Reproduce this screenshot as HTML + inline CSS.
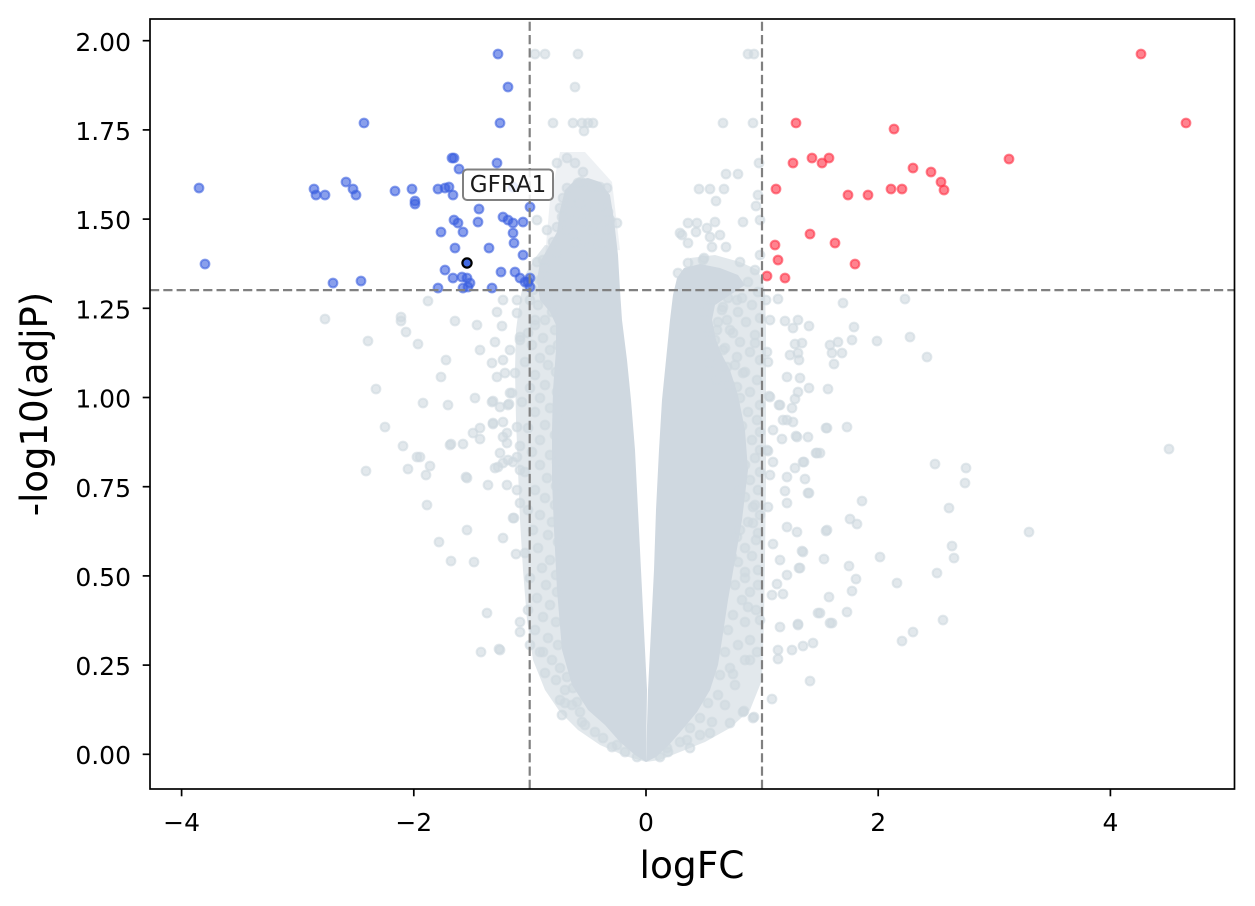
<!DOCTYPE html>
<html><head><meta charset="utf-8"><style>
html,body{margin:0;padding:0;background:#fff;overflow:hidden}
svg{display:block}
.g{fill:#cfd8e0;fill-opacity:.6;stroke:#cfd8e0;stroke-opacity:.6;stroke-width:2}
.b{fill:#3a5fe0;fill-opacity:.6;stroke:#3a5fe0;stroke-opacity:.6;stroke-width:2}
.r{fill:#ff3045;fill-opacity:.6;stroke:#ff3045;stroke-opacity:.6;stroke-width:2}
text{font-family:"DejaVu Sans","Liberation Sans",sans-serif;fill:#000}
</style></head><body>
<svg width="1255" height="906" viewBox="0 0 1255 906" xmlns="http://www.w3.org/2000/svg">
<rect width="1255" height="906" fill="#fff"/>
<defs><clipPath id="c"><rect x="150" y="19" width="1084.5" height="770"/></clipPath></defs>
<g clip-path="url(#c)">
<polygon fill="#cfd8e0" fill-opacity="0.35" points="560,152 585,152 612,182 620,250 545,256 550,200"/>
<polygon fill="#cfd8e0" fill-opacity="0.6" points="545,245 535,258 525,275 520,300 516,330 515,370 516,420 518,470 520,520 523,570 527,620 533,660 545,690 560,712 578,730 600,745 625,756 646,762 646,700 600,600 600,300 580,250"/>
<polygon fill="#cfd8e0" fill-opacity="0.6" points="690,258 715,255 740,262 758,270 765,290 766,330 766,400 766,480 765,560 764,620 762,680 750,710 730,728 705,742 680,752 660,760 646,762 690,600 690,300"/>
<polygon fill="#cfd8e0" points="575,180 565,190 560,210 557,232 548,248 540,262 537,280 540,300 550,312 556,325 556,350 553,390 552,430 552,480 554,530 557,590 562,650 572,685 588,710 605,725 620,742 635,755 646,762 647,690 644,630 641,570 638,510 635,450 631,400 627,360 622,320 620,290 618,255 614,220 610,195 600,182 588,178"/>
<polygon fill="#cfd8e0" points="646,762 648,690 651,630 654,570 656,510 659,450 662,400 666,360 670,320 673,295 677,278 684,268 700,264 720,268 738,275 745,285 730,295 715,305 712,320 716,340 722,355 730,370 738,395 745,430 748,470 742,520 735,560 728,600 722,640 718,665 710,690 697,712 682,730 668,746 656,757"/>
<g id="grey">
<circle class="g" r="4.4" cx="535" cy="54"/><circle class="g" r="4.4" cx="545" cy="54"/><circle class="g" r="4.4" cx="578" cy="54"/><circle class="g" r="4.4" cx="748" cy="54"/><circle class="g" r="4.4" cx="754" cy="54"/><circle class="g" r="4.4" cx="575" cy="87"/><circle class="g" r="4.4" cx="553" cy="123"/><circle class="g" r="4.4" cx="573" cy="123"/><circle class="g" r="4.4" cx="582" cy="123"/><circle class="g" r="4.4" cx="588" cy="123"/><circle class="g" r="4.4" cx="593" cy="123"/><circle class="g" r="4.4" cx="584" cy="131"/><circle class="g" r="4.4" cx="723" cy="123"/><circle class="g" r="4.4" cx="753" cy="123"/>
<circle class="g" r="4.4" cx="567" cy="158"/><circle class="g" r="4.4" cx="575" cy="163"/><circle class="g" r="4.4" cx="583" cy="172"/><circle class="g" r="4.4" cx="557" cy="163"/><circle class="g" r="4.4" cx="578" cy="183"/><circle class="g" r="4.4" cx="593" cy="187"/><circle class="g" r="4.4" cx="600" cy="187"/><circle class="g" r="4.4" cx="607" cy="188"/><circle class="g" r="4.4" cx="567" cy="188"/><circle class="g" r="4.4" cx="563" cy="198"/><circle class="g" r="4.4" cx="570" cy="203"/><circle class="g" r="4.4" cx="560" cy="208"/><circle class="g" r="4.4" cx="580" cy="203"/><circle class="g" r="4.4" cx="587" cy="210"/><circle class="g" r="4.4" cx="600" cy="207"/><circle class="g" r="4.4" cx="608" cy="212"/><circle class="g" r="4.4" cx="610" cy="220"/><circle class="g" r="4.4" cx="575" cy="220"/><circle class="g" r="4.4" cx="562" cy="217"/><circle class="g" r="4.4" cx="557" cy="227"/><circle class="g" r="4.4" cx="567" cy="230"/><circle class="g" r="4.4" cx="587" cy="222"/><circle class="g" r="4.4" cx="593" cy="230"/><circle class="g" r="4.4" cx="607" cy="230"/><circle class="g" r="4.4" cx="617" cy="223"/><circle class="g" r="4.4" cx="575" cy="242"/><circle class="g" r="4.4" cx="553" cy="242"/><circle class="g" r="4.4" cx="547" cy="230"/><circle class="g" r="4.4" cx="537" cy="220"/><circle class="g" r="4.4" cx="590" cy="247"/><circle class="g" r="4.4" cx="603" cy="243"/><circle class="g" r="4.4" cx="557" cy="253"/><circle class="g" r="4.4" cx="583" cy="257"/><circle class="g" r="4.4" cx="543" cy="260"/><circle class="g" r="4.4" cx="581" cy="182"/><circle class="g" r="4.4" cx="576" cy="243"/>
<circle class="g" r="4.4" cx="759" cy="163"/><circle class="g" r="4.4" cx="726" cy="174"/><circle class="g" r="4.4" cx="738" cy="174"/><circle class="g" r="4.4" cx="699" cy="189"/><circle class="g" r="4.4" cx="710" cy="189"/><circle class="g" r="4.4" cx="724" cy="189"/><circle class="g" r="4.4" cx="716" cy="201"/><circle class="g" r="4.4" cx="758" cy="195"/><circle class="g" r="4.4" cx="756" cy="206"/><circle class="g" r="4.4" cx="743" cy="222"/><circle class="g" r="4.4" cx="760" cy="220"/><circle class="g" r="4.4" cx="688" cy="223"/><circle class="g" r="4.4" cx="696" cy="232"/><circle class="g" r="4.4" cx="682" cy="235"/><circle class="g" r="4.4" cx="688" cy="243"/><circle class="g" r="4.4" cx="707" cy="228"/><circle class="g" r="4.4" cx="715" cy="222"/><circle class="g" r="4.4" cx="710" cy="237"/><circle class="g" r="4.4" cx="720" cy="235"/><circle class="g" r="4.4" cx="712" cy="247"/><circle class="g" r="4.4" cx="726" cy="247"/><circle class="g" r="4.4" cx="704" cy="258"/><circle class="g" r="4.4" cx="688" cy="263"/><circle class="g" r="4.4" cx="703" cy="260"/><circle class="g" r="4.4" cx="678" cy="273"/><circle class="g" r="4.4" cx="697" cy="223"/><circle class="g" r="4.4" cx="680" cy="233"/><circle class="g" r="4.4" cx="740" cy="262"/><circle class="g" r="4.4" cx="755" cy="270"/><circle class="g" r="4.4" cx="760" cy="255"/>
<circle class="g" r="4.4" cx="325" cy="319"/><circle class="g" r="4.4" cx="401" cy="317"/><circle class="g" r="4.4" cx="401" cy="321"/><circle class="g" r="4.4" cx="406" cy="332"/><circle class="g" r="4.4" cx="368" cy="341"/><circle class="g" r="4.4" cx="418" cy="344"/><circle class="g" r="4.4" cx="428" cy="301"/><circle class="g" r="4.4" cx="455" cy="321"/><circle class="g" r="4.4" cx="477" cy="325"/><circle class="g" r="4.4" cx="502" cy="326"/><circle class="g" r="4.4" cx="446" cy="360"/><circle class="g" r="4.4" cx="441" cy="377"/><circle class="g" r="4.4" cx="376" cy="389"/><circle class="g" r="4.4" cx="423" cy="403"/><circle class="g" r="4.4" cx="448" cy="405"/><circle class="g" r="4.4" cx="475" cy="398"/><circle class="g" r="4.4" cx="493" cy="401"/><circle class="g" r="4.4" cx="509" cy="404"/><circle class="g" r="4.4" cx="385" cy="427"/><circle class="g" r="4.4" cx="403" cy="446"/><circle class="g" r="4.4" cx="417" cy="457"/><circle class="g" r="4.4" cx="430" cy="466"/><circle class="g" r="4.4" cx="426" cy="475"/><circle class="g" r="4.4" cx="408" cy="469"/><circle class="g" r="4.4" cx="366" cy="471"/><circle class="g" r="4.4" cx="451" cy="444"/><circle class="g" r="4.4" cx="463" cy="444"/><circle class="g" r="4.4" cx="473" cy="433"/><circle class="g" r="4.4" cx="480" cy="428"/><circle class="g" r="4.4" cx="480" cy="439"/><circle class="g" r="4.4" cx="466" cy="477"/><circle class="g" r="4.4" cx="427" cy="505"/><circle class="g" r="4.4" cx="467" cy="530"/><circle class="g" r="4.4" cx="439" cy="542"/><circle class="g" r="4.4" cx="451" cy="561"/><circle class="g" r="4.4" cx="474" cy="562"/><circle class="g" r="4.4" cx="503" cy="538"/><circle class="g" r="4.4" cx="516" cy="554"/><circle class="g" r="4.4" cx="487" cy="613"/><circle class="g" r="4.4" cx="481" cy="652"/><circle class="g" r="4.4" cx="499" cy="649"/><circle class="g" r="4.4" cx="520" cy="622"/><circle class="g" r="4.4" cx="520" cy="632"/><circle class="g" r="4.4" cx="488" cy="485"/><circle class="g" r="4.4" cx="507" cy="485"/><circle class="g" r="4.4" cx="514" cy="518"/><circle class="g" r="4.4" cx="495" cy="468"/><circle class="g" r="4.4" cx="503" cy="463"/><circle class="g" r="4.4" cx="513" cy="462"/><circle class="g" r="4.4" cx="520" cy="470"/><circle class="g" r="4.4" cx="500" cy="453"/><circle class="g" r="4.4" cx="507" cy="443"/><circle class="g" r="4.4" cx="503" cy="437"/><circle class="g" r="4.4" cx="517" cy="427"/><circle class="g" r="4.4" cx="493" cy="424"/><circle class="g" r="4.4" cx="500" cy="407"/><circle class="g" r="4.4" cx="510" cy="393"/><circle class="g" r="4.4" cx="492" cy="363"/><circle class="g" r="4.4" cx="497" cy="377"/><circle class="g" r="4.4" cx="505" cy="373"/><circle class="g" r="4.4" cx="515" cy="373"/><circle class="g" r="4.4" cx="480" cy="350"/><circle class="g" r="4.4" cx="495" cy="342"/><circle class="g" r="4.4" cx="503" cy="360"/><circle class="g" r="4.4" cx="510" cy="350"/><circle class="g" r="4.4" cx="520" cy="337"/><circle class="g" r="4.4" cx="497" cy="312"/><circle class="g" r="4.4" cx="517" cy="313"/><circle class="g" r="4.4" cx="503" cy="300"/><circle class="g" r="4.4" cx="517" cy="300"/><circle class="g" r="4.4" cx="535" cy="320"/>
<circle class="g" r="4.4" cx="492" cy="402"/><circle class="g" r="4.4" cx="508" cy="405"/><circle class="g" r="4.4" cx="512" cy="393"/><circle class="g" r="4.4" cx="420" cy="457"/><circle class="g" r="4.4" cx="450" cy="445"/><circle class="g" r="4.4" cx="493" cy="423"/><circle class="g" r="4.4" cx="503" cy="422"/><circle class="g" r="4.4" cx="507" cy="433"/><circle class="g" r="4.4" cx="508" cy="460"/><circle class="g" r="4.4" cx="498" cy="467"/><circle class="g" r="4.4" cx="517" cy="457"/><circle class="g" r="4.4" cx="467" cy="478"/><circle class="g" r="4.4" cx="517" cy="490"/><circle class="g" r="4.4" cx="513" cy="518"/><circle class="g" r="4.4" cx="520" cy="503"/><circle class="g" r="4.4" cx="500" cy="650"/><circle class="g" r="4.4" cx="530" cy="645"/><circle class="g" r="4.4" cx="543" cy="652"/><circle class="g" r="4.4" cx="562" cy="715"/><circle class="g" r="4.4" cx="582" cy="722"/><circle class="g" r="4.4" cx="565" cy="703"/><circle class="g" r="4.4" cx="577" cy="702"/><circle class="g" r="4.4" cx="573" cy="688"/><circle class="g" r="4.4" cx="567" cy="677"/><circle class="g" r="4.4" cx="617" cy="745"/>
<circle class="g" r="4.4" cx="667" cy="748"/><circle class="g" r="4.4" cx="687" cy="740"/><circle class="g" r="4.4" cx="710" cy="733"/><circle class="g" r="4.4" cx="730" cy="723"/><circle class="g" r="4.4" cx="743" cy="712"/><circle class="g" r="4.4" cx="753" cy="718"/><circle class="g" r="4.4" cx="772" cy="699"/><circle class="g" r="4.4" cx="733" cy="674"/><circle class="g" r="4.4" cx="750" cy="660"/><circle class="g" r="4.4" cx="757" cy="652"/><circle class="g" r="4.4" cx="748" cy="607"/><circle class="g" r="4.4" cx="760" cy="620"/><circle class="g" r="4.4" cx="745" cy="572"/><circle class="g" r="4.4" cx="758" cy="585"/><circle class="g" r="4.4" cx="732" cy="557"/><circle class="g" r="4.4" cx="737" cy="537"/><circle class="g" r="4.4" cx="753" cy="523"/><circle class="g" r="4.4" cx="740" cy="490"/><circle class="g" r="4.4" cx="758" cy="533"/><circle class="g" r="4.4" cx="753" cy="507"/>
<circle class="g" r="4.4" cx="778" cy="299"/><circle class="g" r="4.4" cx="843" cy="303"/><circle class="g" r="4.4" cx="905" cy="299"/><circle class="g" r="4.4" cx="785" cy="321"/><circle class="g" r="4.4" cx="798" cy="320"/><circle class="g" r="4.4" cx="793" cy="328"/><circle class="g" r="4.4" cx="809" cy="326"/><circle class="g" r="4.4" cx="854" cy="327"/><circle class="g" r="4.4" cx="852" cy="340"/><circle class="g" r="4.4" cx="877" cy="341"/><circle class="g" r="4.4" cx="910" cy="337"/><circle class="g" r="4.4" cx="927" cy="357"/><circle class="g" r="4.4" cx="830" cy="345"/><circle class="g" r="4.4" cx="838" cy="342"/><circle class="g" r="4.4" cx="842" cy="353"/><circle class="g" r="4.4" cx="832" cy="353"/><circle class="g" r="4.4" cx="834" cy="364"/><circle class="g" r="4.4" cx="795" cy="344"/><circle class="g" r="4.4" cx="802" cy="343"/><circle class="g" r="4.4" cx="790" cy="355"/><circle class="g" r="4.4" cx="798" cy="353"/><circle class="g" r="4.4" cx="799" cy="360"/><circle class="g" r="4.4" cx="768" cy="362"/><circle class="g" r="4.4" cx="767" cy="352"/><circle class="g" r="4.4" cx="755" cy="343"/><circle class="g" r="4.4" cx="787" cy="377"/><circle class="g" r="4.4" cx="800" cy="378"/><circle class="g" r="4.4" cx="809" cy="388"/><circle class="g" r="4.4" cx="828" cy="389"/><circle class="g" r="4.4" cx="798" cy="392"/><circle class="g" r="4.4" cx="795" cy="399"/><circle class="g" r="4.4" cx="792" cy="408"/><circle class="g" r="4.4" cx="769" cy="396"/><circle class="g" r="4.4" cx="779" cy="405"/><circle class="g" r="4.4" cx="783" cy="420"/><circle class="g" r="4.4" cx="793" cy="422"/><circle class="g" r="4.4" cx="773" cy="430"/><circle class="g" r="4.4" cx="826" cy="428"/><circle class="g" r="4.4" cx="847" cy="427"/><circle class="g" r="4.4" cx="782" cy="439"/><circle class="g" r="4.4" cx="796" cy="436"/><circle class="g" r="4.4" cx="808" cy="437"/><circle class="g" r="4.4" cx="1169" cy="449"/><circle class="g" r="4.4" cx="816" cy="453"/><circle class="g" r="4.4" cx="820" cy="453"/><circle class="g" r="4.4" cx="768" cy="451"/><circle class="g" r="4.4" cx="935" cy="464"/><circle class="g" r="4.4" cx="966" cy="468"/><circle class="g" r="4.4" cx="965" cy="483"/><circle class="g" r="4.4" cx="804" cy="462"/><circle class="g" r="4.4" cx="795" cy="468"/><circle class="g" r="4.4" cx="787" cy="477"/><circle class="g" r="4.4" cx="805" cy="479"/><circle class="g" r="4.4" cx="773" cy="462"/><circle class="g" r="4.4" cx="770" cy="475"/><circle class="g" r="4.4" cx="785" cy="491"/><circle class="g" r="4.4" cx="809" cy="493"/><circle class="g" r="4.4" cx="787" cy="503"/><circle class="g" r="4.4" cx="862" cy="501"/><circle class="g" r="4.4" cx="949" cy="508"/><circle class="g" r="4.4" cx="850" cy="519"/><circle class="g" r="4.4" cx="857" cy="524"/><circle class="g" r="4.4" cx="787" cy="527"/><circle class="g" r="4.4" cx="797" cy="532"/><circle class="g" r="4.4" cx="826" cy="531"/><circle class="g" r="4.4" cx="1029" cy="532"/><circle class="g" r="4.4" cx="773" cy="544"/><circle class="g" r="4.4" cx="802" cy="551"/><circle class="g" r="4.4" cx="952" cy="546"/><circle class="g" r="4.4" cx="954" cy="558"/><circle class="g" r="4.4" cx="880" cy="557"/><circle class="g" r="4.4" cx="824" cy="559"/><circle class="g" r="4.4" cx="780" cy="560"/><circle class="g" r="4.4" cx="849" cy="566"/><circle class="g" r="4.4" cx="799" cy="568"/><circle class="g" r="4.4" cx="787" cy="575"/><circle class="g" r="4.4" cx="937" cy="573"/><circle class="g" r="4.4" cx="856" cy="579"/><circle class="g" r="4.4" cx="897" cy="583"/><circle class="g" r="4.4" cx="777" cy="584"/><circle class="g" r="4.4" cx="783" cy="594"/><circle class="g" r="4.4" cx="772" cy="595"/><circle class="g" r="4.4" cx="829" cy="597"/><circle class="g" r="4.4" cx="852" cy="591"/><circle class="g" r="4.4" cx="847" cy="612"/><circle class="g" r="4.4" cx="820" cy="613"/><circle class="g" r="4.4" cx="830" cy="623"/><circle class="g" r="4.4" cx="943" cy="620"/><circle class="g" r="4.4" cx="780" cy="627"/><circle class="g" r="4.4" cx="798" cy="624"/><circle class="g" r="4.4" cx="913" cy="632"/><circle class="g" r="4.4" cx="902" cy="641"/><circle class="g" r="4.4" cx="813" cy="643"/><circle class="g" r="4.4" cx="803" cy="646"/><circle class="g" r="4.4" cx="792" cy="650"/><circle class="g" r="4.4" cx="778" cy="650"/><circle class="g" r="4.4" cx="778" cy="659"/><circle class="g" r="4.4" cx="810" cy="681"/><circle class="g" r="4.4" cx="754" cy="717"/><circle class="g" r="4.4" cx="744" cy="711"/>
<circle class="g" r="4.4" cx="770" cy="397"/><circle class="g" r="4.4" cx="780" cy="405"/><circle class="g" r="4.4" cx="787" cy="420"/><circle class="g" r="4.4" cx="797" cy="437"/><circle class="g" r="4.4" cx="827" cy="428"/><circle class="g" r="4.4" cx="767" cy="450"/><circle class="g" r="4.4" cx="817" cy="453"/><circle class="g" r="4.4" cx="803" cy="462"/><circle class="g" r="4.4" cx="808" cy="493"/><circle class="g" r="4.4" cx="768" cy="507"/><circle class="g" r="4.4" cx="827" cy="530"/><circle class="g" r="4.4" cx="803" cy="552"/><circle class="g" r="4.4" cx="800" cy="568"/><circle class="g" r="4.4" cx="818" cy="613"/><circle class="g" r="4.4" cx="832" cy="623"/><circle class="g" r="4.4" cx="798" cy="625"/><circle class="g" r="4.4" cx="766" cy="300"/><circle class="g" r="4.4" cx="770" cy="320"/>
<circle class="g" r="4.4" cx="537" cy="262"/><circle class="g" r="4.4" cx="545" cy="268"/><circle class="g" r="4.4" cx="540" cy="280"/><circle class="g" r="4.4" cx="533" cy="290"/><circle class="g" r="4.4" cx="548" cy="296"/><circle class="g" r="4.4" cx="538" cy="305"/><circle class="g" r="4.4" cx="530" cy="300"/><circle class="g" r="4.4" cx="552" cy="312"/><circle class="g" r="4.4" cx="545" cy="320"/><circle class="g" r="4.4" cx="535" cy="325"/><circle class="g" r="4.4" cx="528" cy="333"/><circle class="g" r="4.4" cx="555" cy="330"/><circle class="g" r="4.4" cx="543" cy="338"/><circle class="g" r="4.4" cx="520" cy="340"/><circle class="g" r="4.4" cx="532" cy="345"/><circle class="g" r="4.4" cx="550" cy="350"/><circle class="g" r="4.4" cx="558" cy="345"/><circle class="g" r="4.4" cx="540" cy="358"/><circle class="g" r="4.4" cx="525" cy="362"/><circle class="g" r="4.4" cx="548" cy="365"/><circle class="g" r="4.4" cx="556" cy="372"/><circle class="g" r="4.4" cx="535" cy="375"/><circle class="g" r="4.4" cx="545" cy="385"/><circle class="g" r="4.4" cx="530" cy="388"/><circle class="g" r="4.4" cx="557" cy="392"/><circle class="g" r="4.4" cx="540" cy="398"/><circle class="g" r="4.4" cx="522" cy="402"/><circle class="g" r="4.4" cx="550" cy="408"/><circle class="g" r="4.4" cx="535" cy="412"/><circle class="g" r="4.4" cx="558" cy="418"/><circle class="g" r="4.4" cx="545" cy="425"/><circle class="g" r="4.4" cx="528" cy="428"/><circle class="g" r="4.4" cx="555" cy="435"/><circle class="g" r="4.4" cx="540" cy="440"/><circle class="g" r="4.4" cx="520" cy="446"/><circle class="g" r="4.4" cx="532" cy="452"/><circle class="g" r="4.4" cx="550" cy="455"/><circle class="g" r="4.4" cx="557" cy="462"/><circle class="g" r="4.4" cx="540" cy="465"/><circle class="g" r="4.4" cx="525" cy="472"/><circle class="g" r="4.4" cx="547" cy="478"/><circle class="g" r="4.4" cx="556" cy="486"/><circle class="g" r="4.4" cx="535" cy="490"/><circle class="g" r="4.4" cx="545" cy="498"/><circle class="g" r="4.4" cx="555" cy="505"/><circle class="g" r="4.4" cx="528" cy="510"/><circle class="g" r="4.4" cx="540" cy="515"/><circle class="g" r="4.4" cx="552" cy="522"/><circle class="g" r="4.4" cx="533" cy="530"/><circle class="g" r="4.4" cx="548" cy="535"/><circle class="g" r="4.4" cx="558" cy="542"/><circle class="g" r="4.4" cx="538" cy="548"/><circle class="g" r="4.4" cx="525" cy="553"/><circle class="g" r="4.4" cx="550" cy="560"/><circle class="g" r="4.4" cx="542" cy="568"/><circle class="g" r="4.4" cx="556" cy="575"/><circle class="g" r="4.4" cx="530" cy="578"/><circle class="g" r="4.4" cx="546" cy="585"/><circle class="g" r="4.4" cx="557" cy="592"/><circle class="g" r="4.4" cx="537" cy="598"/><circle class="g" r="4.4" cx="550" cy="605"/><circle class="g" r="4.4" cx="528" cy="610"/><circle class="g" r="4.4" cx="543" cy="617"/><circle class="g" r="4.4" cx="556" cy="622"/><circle class="g" r="4.4" cx="535" cy="630"/><circle class="g" r="4.4" cx="548" cy="638"/><circle class="g" r="4.4" cx="558" cy="645"/><circle class="g" r="4.4" cx="540" cy="652"/><circle class="g" r="4.4" cx="552" cy="660"/><circle class="g" r="4.4" cx="560" cy="668"/><circle class="g" r="4.4" cx="545" cy="673"/><circle class="g" r="4.4" cx="556" cy="680"/><circle class="g" r="4.4" cx="565" cy="690"/><circle class="g" r="4.4" cx="560" cy="700"/><circle class="g" r="4.4" cx="572" cy="705"/><circle class="g" r="4.4" cx="580" cy="712"/><circle class="g" r="4.4" cx="585" cy="725"/><circle class="g" r="4.4" cx="595" cy="732"/><circle class="g" r="4.4" cx="603" cy="738"/><circle class="g" r="4.4" cx="612" cy="747"/><circle class="g" r="4.4" cx="625" cy="752"/><circle class="g" r="4.4" cx="637" cy="757"/>
<circle class="g" r="4.4" cx="748" cy="282"/><circle class="g" r="4.4" cx="758" cy="292"/><circle class="g" r="4.4" cx="742" cy="298"/><circle class="g" r="4.4" cx="752" cy="305"/><circle class="g" r="4.4" cx="738" cy="312"/><circle class="g" r="4.4" cx="760" cy="318"/><circle class="g" r="4.4" cx="746" cy="322"/><circle class="g" r="4.4" cx="730" cy="330"/><circle class="g" r="4.4" cx="755" cy="335"/><circle class="g" r="4.4" cx="740" cy="342"/><circle class="g" r="4.4" cx="725" cy="348"/><circle class="g" r="4.4" cx="750" cy="352"/><circle class="g" r="4.4" cx="760" cy="360"/><circle class="g" r="4.4" cx="735" cy="365"/><circle class="g" r="4.4" cx="745" cy="372"/><circle class="g" r="4.4" cx="757" cy="380"/><circle class="g" r="4.4" cx="730" cy="385"/><circle class="g" r="4.4" cx="750" cy="392"/><circle class="g" r="4.4" cx="740" cy="398"/><circle class="g" r="4.4" cx="760" cy="405"/><circle class="g" r="4.4" cx="748" cy="412"/><circle class="g" r="4.4" cx="757" cy="420"/><circle class="g" r="4.4" cx="742" cy="426"/><circle class="g" r="4.4" cx="760" cy="432"/><circle class="g" r="4.4" cx="752" cy="440"/><circle class="g" r="4.4" cx="760" cy="450"/><circle class="g" r="4.4" cx="755" cy="458"/><circle class="g" r="4.4" cx="745" cy="465"/><circle class="g" r="4.4" cx="760" cy="472"/><circle class="g" r="4.4" cx="750" cy="480"/><circle class="g" r="4.4" cx="758" cy="490"/><circle class="g" r="4.4" cx="745" cy="497"/><circle class="g" r="4.4" cx="755" cy="505"/><circle class="g" r="4.4" cx="760" cy="515"/><circle class="g" r="4.4" cx="748" cy="522"/><circle class="g" r="4.4" cx="740" cy="530"/><circle class="g" r="4.4" cx="756" cy="540"/><circle class="g" r="4.4" cx="745" cy="548"/><circle class="g" r="4.4" cx="752" cy="556"/><circle class="g" r="4.4" cx="738" cy="562"/><circle class="g" r="4.4" cx="758" cy="570"/><circle class="g" r="4.4" cx="745" cy="578"/><circle class="g" r="4.4" cx="735" cy="585"/><circle class="g" r="4.4" cx="750" cy="592"/><circle class="g" r="4.4" cx="742" cy="600"/><circle class="g" r="4.4" cx="756" cy="610"/><circle class="g" r="4.4" cx="733" cy="615"/><circle class="g" r="4.4" cx="745" cy="622"/><circle class="g" r="4.4" cx="728" cy="630"/><circle class="g" r="4.4" cx="750" cy="640"/><circle class="g" r="4.4" cx="738" cy="645"/><circle class="g" r="4.4" cx="725" cy="652"/><circle class="g" r="4.4" cx="745" cy="660"/><circle class="g" r="4.4" cx="730" cy="668"/><circle class="g" r="4.4" cx="720" cy="675"/><circle class="g" r="4.4" cx="735" cy="685"/><circle class="g" r="4.4" cx="718" cy="695"/><circle class="g" r="4.4" cx="708" cy="703"/><circle class="g" r="4.4" cx="725" cy="705"/><circle class="g" r="4.4" cx="700" cy="718"/><circle class="g" r="4.4" cx="712" cy="722"/><circle class="g" r="4.4" cx="690" cy="728"/><circle class="g" r="4.4" cx="700" cy="735"/><circle class="g" r="4.4" cx="680" cy="742"/><circle class="g" r="4.4" cx="690" cy="748"/><circle class="g" r="4.4" cx="668" cy="752"/><circle class="g" r="4.4" cx="660" cy="757"/>
<circle class="g" r="4.4" cx="705" cy="312"/><circle class="g" r="4.4" cx="712" cy="300"/><circle class="g" r="4.4" cx="718" cy="322"/><circle class="g" r="4.4" cx="708" cy="328"/><circle class="g" r="4.4" cx="715" cy="340"/><circle class="g" r="4.4" cx="722" cy="310"/><circle class="g" r="4.4" cx="728" cy="298"/><circle class="g" r="4.4" cx="710" cy="300"/><circle class="g" r="4.4" cx="723" cy="307"/><circle class="g" r="4.4" cx="737" cy="300"/><circle class="g" r="4.4" cx="727" cy="320"/><circle class="g" r="4.4" cx="717" cy="330"/><circle class="g" r="4.4" cx="733" cy="333"/><circle class="g" r="4.4" cx="710" cy="340"/><circle class="g" r="4.4" cx="723" cy="350"/><circle class="g" r="4.4" cx="737" cy="357"/><circle class="g" r="4.4" cx="710" cy="363"/><circle class="g" r="4.4" cx="727" cy="367"/><circle class="g" r="4.4" cx="743" cy="373"/><circle class="g" r="4.4" cx="717" cy="380"/><circle class="g" r="4.4" cx="737" cy="387"/>
</g>
<g id="blue">
<circle class="b" r="4.4" cx="199" cy="188"/><circle class="b" r="4.4" cx="205" cy="264"/><circle class="b" r="4.4" cx="314" cy="189"/><circle class="b" r="4.4" cx="316" cy="195"/><circle class="b" r="4.4" cx="325" cy="195"/><circle class="b" r="4.4" cx="333" cy="283"/><circle class="b" r="4.4" cx="346" cy="182"/><circle class="b" r="4.4" cx="353" cy="189"/><circle class="b" r="4.4" cx="356" cy="195"/><circle class="b" r="4.4" cx="364" cy="123"/><circle class="b" r="4.4" cx="361" cy="281"/><circle class="b" r="4.4" cx="395" cy="191"/><circle class="b" r="4.4" cx="412" cy="189"/><circle class="b" r="4.4" cx="415" cy="204"/><circle class="b" r="4.4" cx="415" cy="201"/>
<circle class="b" r="4.4" cx="498" cy="54"/><circle class="b" r="4.4" cx="508" cy="87"/><circle class="b" r="4.4" cx="500" cy="123"/><circle class="b" r="4.4" cx="452" cy="158"/><circle class="b" r="4.4" cx="454" cy="158"/><circle class="b" r="4.4" cx="459" cy="169"/><circle class="b" r="4.4" cx="497" cy="163"/><circle class="b" r="4.4" cx="438" cy="189"/><circle class="b" r="4.4" cx="445" cy="188"/><circle class="b" r="4.4" cx="449" cy="187"/><circle class="b" r="4.4" cx="453" cy="195"/><circle class="b" r="4.4" cx="513" cy="187"/><circle class="b" r="4.4" cx="479" cy="209"/><circle class="b" r="4.4" cx="454" cy="220"/><circle class="b" r="4.4" cx="458" cy="223"/><circle class="b" r="4.4" cx="463" cy="232"/><circle class="b" r="4.4" cx="478" cy="222"/><circle class="b" r="4.4" cx="441" cy="232"/><circle class="b" r="4.4" cx="503" cy="217"/><circle class="b" r="4.4" cx="508" cy="220"/><circle class="b" r="4.4" cx="513" cy="223"/><circle class="b" r="4.4" cx="523" cy="222"/><circle class="b" r="4.4" cx="530" cy="207"/><circle class="b" r="4.4" cx="513" cy="233"/><circle class="b" r="4.4" cx="514" cy="243"/><circle class="b" r="4.4" cx="455" cy="248"/><circle class="b" r="4.4" cx="489" cy="248"/><circle class="b" r="4.4" cx="523" cy="255"/><circle class="b" r="4.4" cx="445" cy="270"/><circle class="b" r="4.4" cx="453" cy="278"/><circle class="b" r="4.4" cx="462" cy="277"/><circle class="b" r="4.4" cx="467" cy="278"/><circle class="b" r="4.4" cx="470" cy="283"/><circle class="b" r="4.4" cx="463" cy="288"/><circle class="b" r="4.4" cx="468" cy="287"/><circle class="b" r="4.4" cx="438" cy="288"/><circle class="b" r="4.4" cx="492" cy="288"/><circle class="b" r="4.4" cx="501" cy="272"/><circle class="b" r="4.4" cx="515" cy="272"/><circle class="b" r="4.4" cx="520" cy="278"/><circle class="b" r="4.4" cx="525" cy="282"/><circle class="b" r="4.4" cx="530" cy="278"/><circle class="b" r="4.4" cx="530" cy="287"/><circle class="b" r="4.4" cx="528" cy="282"/>
</g>
<g id="red">
<circle class="r" r="4.4" cx="796" cy="123"/><circle class="r" r="4.4" cx="793" cy="163"/><circle class="r" r="4.4" cx="812" cy="158"/><circle class="r" r="4.4" cx="822" cy="163"/><circle class="r" r="4.4" cx="829" cy="158"/><circle class="r" r="4.4" cx="776" cy="189"/><circle class="r" r="4.4" cx="810" cy="234"/><circle class="r" r="4.4" cx="835" cy="243"/><circle class="r" r="4.4" cx="775" cy="245"/><circle class="r" r="4.4" cx="778" cy="260"/><circle class="r" r="4.4" cx="767" cy="276"/><circle class="r" r="4.4" cx="785" cy="278"/>
<circle class="r" r="4.4" cx="1141" cy="54"/><circle class="r" r="4.4" cx="1186" cy="123"/><circle class="r" r="4.4" cx="894" cy="129"/><circle class="r" r="4.4" cx="1009" cy="159"/><circle class="r" r="4.4" cx="913" cy="168"/><circle class="r" r="4.4" cx="931" cy="172"/><circle class="r" r="4.4" cx="941" cy="182"/><circle class="r" r="4.4" cx="944" cy="190"/><circle class="r" r="4.4" cx="891" cy="189"/><circle class="r" r="4.4" cx="902" cy="189"/><circle class="r" r="4.4" cx="848" cy="195"/><circle class="r" r="4.4" cx="868" cy="195"/><circle class="r" r="4.4" cx="855" cy="264"/>
</g>
<circle cx="467" cy="263" r="4.6" fill="#4169e1" stroke="#000" stroke-width="2.2"/>
<line x1="150" y1="290.1" x2="1234.5" y2="290.1" stroke="#808080" stroke-width="2.2" stroke-dasharray="9.2 4.1"/>
<line x1="529.7" y1="789" x2="529.7" y2="19" stroke="#808080" stroke-width="2.2" stroke-dasharray="9.2 4.1"/>
<line x1="762" y1="789" x2="762" y2="19" stroke="#808080" stroke-width="2.2" stroke-dasharray="9.2 4.1"/>
</g>
<rect x="150" y="19" width="1084.5" height="770" fill="none" stroke="#000" stroke-width="1.7"/>
<g stroke="#000" stroke-width="1.7">
<line x1="142.7" y1="754.3" x2="150" y2="754.3"/><line x1="142.7" y1="665.1" x2="150" y2="665.1"/><line x1="142.7" y1="575.9" x2="150" y2="575.9"/><line x1="142.7" y1="486.7" x2="150" y2="486.7"/><line x1="142.7" y1="397.5" x2="150" y2="397.5"/><line x1="142.7" y1="308.3" x2="150" y2="308.3"/><line x1="142.7" y1="219.1" x2="150" y2="219.1"/><line x1="142.7" y1="129.9" x2="150" y2="129.9"/><line x1="142.7" y1="40.7" x2="150" y2="40.7"/>
<line x1="181.6" y1="789" x2="181.6" y2="796.3"/><line x1="413.8" y1="789" x2="413.8" y2="796.3"/><line x1="646" y1="789" x2="646" y2="796.3"/><line x1="878.2" y1="789" x2="878.2" y2="796.3"/><line x1="1110.4" y1="789" x2="1110.4" y2="796.3"/>
</g>
<g font-size="25" text-anchor="end">
<text x="131" y="764">0.00</text><text x="131" y="675">0.25</text><text x="131" y="586">0.50</text><text x="131" y="497">0.75</text><text x="131" y="407.5">1.00</text><text x="131" y="318.5">1.25</text><text x="131" y="229">1.50</text><text x="131" y="140">1.75</text><text x="131" y="51">2.00</text>
</g>
<g font-size="25" text-anchor="middle">
<text x="181.6" y="831">−4</text><text x="413.8" y="831">−2</text><text x="646" y="831">0</text><text x="878.2" y="831">2</text><text x="1110.4" y="831">4</text>
</g>
<text x="692" y="878" font-size="37.5" text-anchor="middle">logFC</text>
<text transform="translate(47,404) rotate(-90)" font-size="37" text-anchor="middle">-log10(adjP)</text>
<rect x="463" y="169.5" width="90" height="30.5" rx="4" ry="4" fill="#fff" fill-opacity="0.85" stroke="#808080" stroke-width="2"/>
<text x="508" y="192" font-size="23" text-anchor="middle" style="fill:#1a1a1a">GFRA1</text>
</svg>
</body></html>
